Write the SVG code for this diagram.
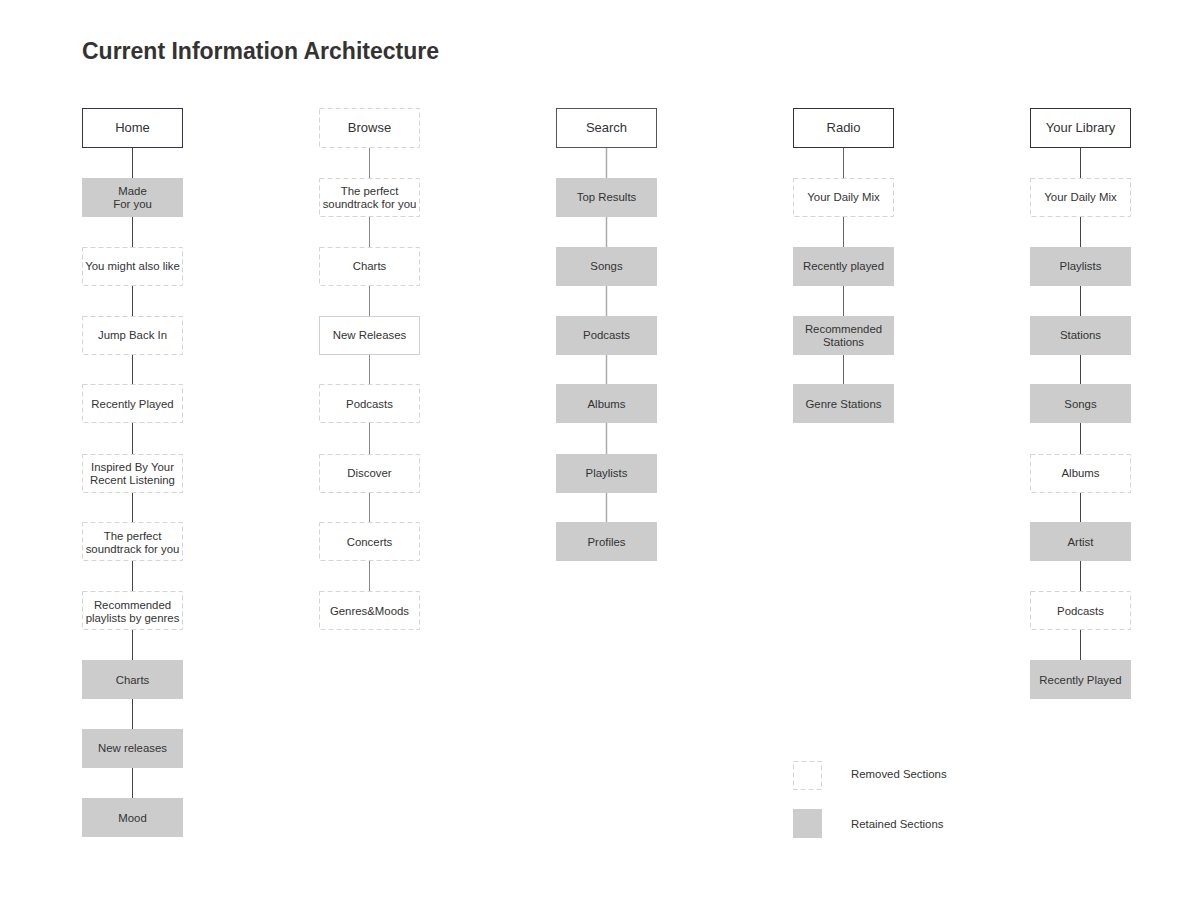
<svg xmlns="http://www.w3.org/2000/svg" width="1200" height="910" viewBox="0 0 1200 910">
<style>
text{font-family:"Liberation Sans",Arial,sans-serif;font-size:11.4px;fill:#333;text-anchor:middle}
.title{font-size:23px;font-weight:bold;text-anchor:start;fill:#333}
.ht{font-size:13px}
.lg{text-anchor:start}
.hd{fill:#fff;stroke:#333;stroke-width:1}
.rm{fill:#fff;stroke:#d4d4d4;stroke-width:1;stroke-dasharray:5,3}
.rt{fill:#cccccc;stroke:none}
.sl{fill:#fff;stroke:#d0d0d0;stroke-width:1}
.c1{stroke:#444;stroke-width:1}
.c2{stroke:#888;stroke-width:1}
.c3{stroke:#aaa;stroke-width:1.5}
.c4{stroke:#666;stroke-width:1}
</style>
<rect width="1200" height="910" fill="#fff"/>
<text x="82" y="59" class="title">Current Information Architecture</text>
<g id="connectors">
<line class="c1" x1="132.5" y1="148" x2="132.5" y2="798"/>
<line class="c2" x1="369.5" y1="148" x2="369.5" y2="591"/>
<line class="c3" x1="606.5" y1="148" x2="606.5" y2="522"/>
<line class="c4" x1="843.5" y1="148" x2="843.5" y2="384"/>
<line class="c1" x1="1080.5" y1="148" x2="1080.5" y2="660"/>
</g>
<!-- Home column -->
<g id="home"><rect x="82.5" y="108.5" width="100" height="39" class="hd" style="stroke:#33335a"/><text x="132.5" y="132" class="ht">Home</text></g>
<g id="home-made"><rect x="82" y="178" width="101" height="39" class="rt"/><text x="132.5" y="195">Made</text><text x="132.5" y="208">For you</text></g>
<g id="home-might"><rect x="82.5" y="247.5" width="100" height="38" class="rm"/><text x="132.5" y="270">You might also like</text></g>
<g id="home-jump"><rect x="82.5" y="316.5" width="100" height="38" class="rm"/><text x="132.5" y="339">Jump Back In</text></g>
<g id="home-recent"><rect x="82.5" y="384.5" width="100" height="38" class="rm"/><text x="132.5" y="408">Recently Played</text></g>
<g id="home-inspired"><rect x="82.5" y="454.5" width="100" height="38" class="rm"/><text x="132.5" y="471">Inspired By Your</text><text x="132.5" y="484">Recent Listening</text></g>
<g id="home-perfect"><rect x="82.5" y="522.5" width="100" height="38" class="rm"/><text x="132.5" y="540">The perfect</text><text x="132.5" y="553">soundtrack for you</text></g>
<g id="home-recommended"><rect x="82.5" y="591.5" width="100" height="38" class="rm"/><text x="132.5" y="609">Recommended</text><text x="132.5" y="622">playlists by genres</text></g>
<g id="home-charts"><rect x="82" y="660" width="101" height="39" class="rt"/><text x="132.5" y="684">Charts</text></g>
<g id="home-new"><rect x="82" y="729" width="101" height="39" class="rt"/><text x="132.5" y="752">New releases</text></g>
<g id="home-mood"><rect x="82" y="798" width="101" height="39" class="rt"/><text x="132.5" y="822">Mood</text></g>
<!-- Browse column -->
<g id="browse"><rect x="319.5" y="108.5" width="100" height="39" class="rm"/><text x="369.5" y="132" class="ht">Browse</text></g>
<g id="browse-perfect"><rect x="319.5" y="178.5" width="100" height="38" class="rm"/><text x="369.5" y="195">The perfect</text><text x="369.5" y="208">soundtrack for you</text></g>
<g id="browse-charts"><rect x="319.5" y="247.5" width="100" height="38" class="rm"/><text x="369.5" y="270">Charts</text></g>
<g id="browse-new"><rect x="319.5" y="316.5" width="100" height="38" class="sl"/><text x="369.5" y="339">New Releases</text></g>
<g id="browse-podcasts"><rect x="319.5" y="384.5" width="100" height="38" class="rm"/><text x="369.5" y="408">Podcasts</text></g>
<g id="browse-discover"><rect x="319.5" y="454.5" width="100" height="38" class="rm"/><text x="369.5" y="477">Discover</text></g>
<g id="browse-concerts"><rect x="319.5" y="522.5" width="100" height="38" class="rm"/><text x="369.5" y="546">Concerts</text></g>
<g id="browse-genres"><rect x="319.5" y="591.5" width="100" height="38" class="rm"/><text x="369.5" y="615">Genres&amp;Moods</text></g>
<!-- Search column -->
<g id="search"><rect x="556.5" y="108.5" width="100" height="39" class="hd" style="stroke:#555"/><text x="606.5" y="132" class="ht">Search</text></g>
<g id="search-top"><rect x="556" y="178" width="101" height="39" class="rt"/><text x="606.5" y="201">Top Results</text></g>
<g id="search-songs"><rect x="556" y="247" width="101" height="39" class="rt"/><text x="606.5" y="270">Songs</text></g>
<g id="search-podcasts"><rect x="556" y="316" width="101" height="39" class="rt"/><text x="606.5" y="339">Podcasts</text></g>
<g id="search-albums"><rect x="556" y="384" width="101" height="39" class="rt"/><text x="606.5" y="408">Albums</text></g>
<g id="search-playlists"><rect x="556" y="454" width="101" height="39" class="rt"/><text x="606.5" y="477">Playlists</text></g>
<g id="search-profiles"><rect x="556" y="522" width="101" height="39" class="rt"/><text x="606.5" y="546">Profiles</text></g>
<!-- Radio column -->
<g id="radio"><rect x="793.5" y="108.5" width="100" height="39" class="hd"/><text x="843.5" y="132" class="ht">Radio</text></g>
<g id="radio-daily"><rect x="793.5" y="178.5" width="100" height="38" class="rm"/><text x="843.5" y="201">Your Daily Mix</text></g>
<g id="radio-recent"><rect x="793" y="247" width="101" height="39" class="rt"/><text x="843.5" y="270">Recently played</text></g>
<g id="radio-recommended"><rect x="793" y="316" width="101" height="39" class="rt"/><text x="843.5" y="333">Recommended</text><text x="843.5" y="346">Stations</text></g>
<g id="radio-genre"><rect x="793" y="384" width="101" height="39" class="rt"/><text x="843.5" y="408">Genre Stations</text></g>
<!-- Library column -->
<g id="library"><rect x="1030.5" y="108.5" width="100" height="39" class="hd"/><text x="1080.5" y="132" class="ht">Your Library</text></g>
<g id="library-daily"><rect x="1030.5" y="178.5" width="100" height="38" class="rm"/><text x="1080.5" y="201">Your Daily Mix</text></g>
<g id="library-playlists"><rect x="1030" y="247" width="101" height="39" class="rt"/><text x="1080.5" y="270">Playlists</text></g>
<g id="library-stations"><rect x="1030" y="316" width="101" height="39" class="rt"/><text x="1080.5" y="339">Stations</text></g>
<g id="library-songs"><rect x="1030" y="384" width="101" height="39" class="rt"/><text x="1080.5" y="408">Songs</text></g>
<g id="library-albums"><rect x="1030.5" y="454.5" width="100" height="38" class="rm"/><text x="1080.5" y="477">Albums</text></g>
<g id="library-artist"><rect x="1030" y="522" width="101" height="39" class="rt"/><text x="1080.5" y="546">Artist</text></g>
<g id="library-podcasts"><rect x="1030.5" y="591.5" width="100" height="38" class="rm"/><text x="1080.5" y="615">Podcasts</text></g>
<g id="library-recent"><rect x="1030" y="660" width="101" height="39" class="rt"/><text x="1080.5" y="684">Recently Played</text></g>
<!-- Legend -->
<g id="legend-removed"><rect x="793.5" y="761.5" width="28" height="28" class="rm"/><text x="851" y="778" class="lg">Removed Sections</text></g>
<g id="legend-retained"><rect x="793" y="809" width="29" height="29" class="rt"/><text x="851" y="828" class="lg">Retained Sections</text></g>
</svg>
